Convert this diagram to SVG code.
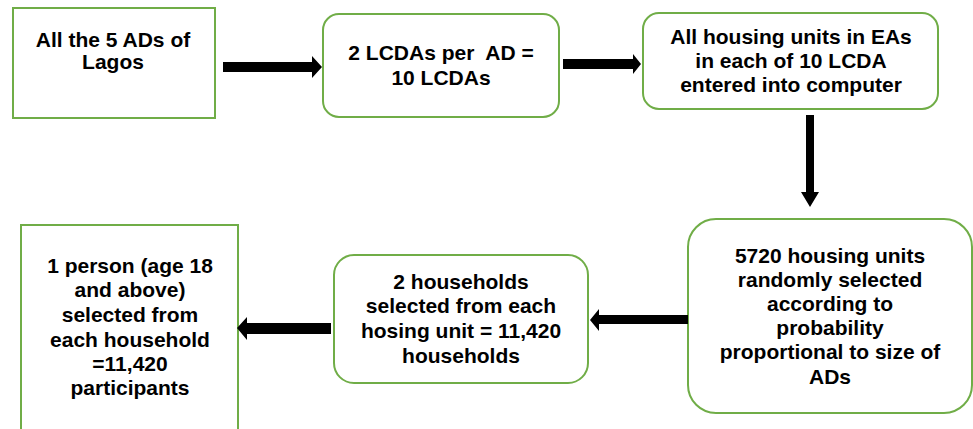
<svg xmlns="http://www.w3.org/2000/svg" width="973" height="429" viewBox="0 0 973 429">
<style>
.box{fill:#fff;stroke:#70AD47;stroke-width:2}
.t{font-family:"Liberation Sans",Arial,sans-serif;font-weight:bold;font-size:21px;fill:#000;text-anchor:middle}
.arr{fill:#000}
</style>
<rect width="973" height="429" fill="#fff"/>
<g id="node-ads">
<rect class="box" x="13" y="8" width="202" height="110"/>
<text class="t" x="113" y="47">All the 5 ADs of</text>
<text class="t" x="113" y="69">Lagos</text>
</g>
<g id="node-lcdas">
<rect class="box" x="323" y="14" width="236" height="103" rx="16"/>
<text class="t" x="441" y="60" xml:space="preserve">2 LCDAs per  AD =</text>
<text class="t" x="441" y="85">10 LCDAs</text>
</g>
<g id="node-housing">
<rect class="box" x="643" y="13" width="295" height="96" rx="16"/>
<text class="t" x="791" y="44">All housing units in EAs</text>
<text class="t" x="791" y="68">in each of 10 LCDA</text>
<text class="t" x="791" y="92">entered into computer</text>
</g>
<g id="node-5720">
<rect class="box" x="688" y="219" width="284" height="194" rx="28"/>
<text class="t" x="830" y="263">5720 housing units</text>
<text class="t" x="830" y="287">randomly selected</text>
<text class="t" x="830" y="311">according to</text>
<text class="t" x="830" y="335">probability</text>
<text class="t" x="830" y="359">proportional to size of</text>
<text class="t" x="830" y="384">ADs</text>
</g>
<g id="node-households">
<rect class="box" x="334" y="255" width="254" height="128" rx="20"/>
<text class="t" x="461" y="289">2 households</text>
<text class="t" x="461" y="313">selected from each</text>
<text class="t" x="461" y="338">hosing unit = 11,420</text>
<text class="t" x="461" y="363">households</text>
</g>
<g id="node-person">
<rect class="box" x="21" y="225" width="217" height="220"/>
<text class="t" x="130" y="273">1 person (age 18</text>
<text class="t" x="130" y="297">and above)</text>
<text class="t" x="130" y="322">selected from</text>
<text class="t" x="130" y="347">each household</text>
<text class="t" x="130" y="371">=11,420</text>
<text class="t" x="130" y="395">participants</text>
</g>
<g id="connectors">
<polygon class="arr" points="223,62 312,62 312,56 322,67 312,78 312,72 223,72"/>
<polygon class="arr" points="563,59 633,59 633,54 641,64 633,74 633,69 563,69"/>
<polygon class="arr" points="806,115 814,115 814,192 819,192 810,207 801,192 806,192"/>
<polygon class="arr" points="688,315 599,315 599,309 590,320 599,331 599,324 688,324"/>
<polygon class="arr" points="331,323 247,323 247,317 237,328 247,340 247,334 331,334"/>
</g>
</svg>
